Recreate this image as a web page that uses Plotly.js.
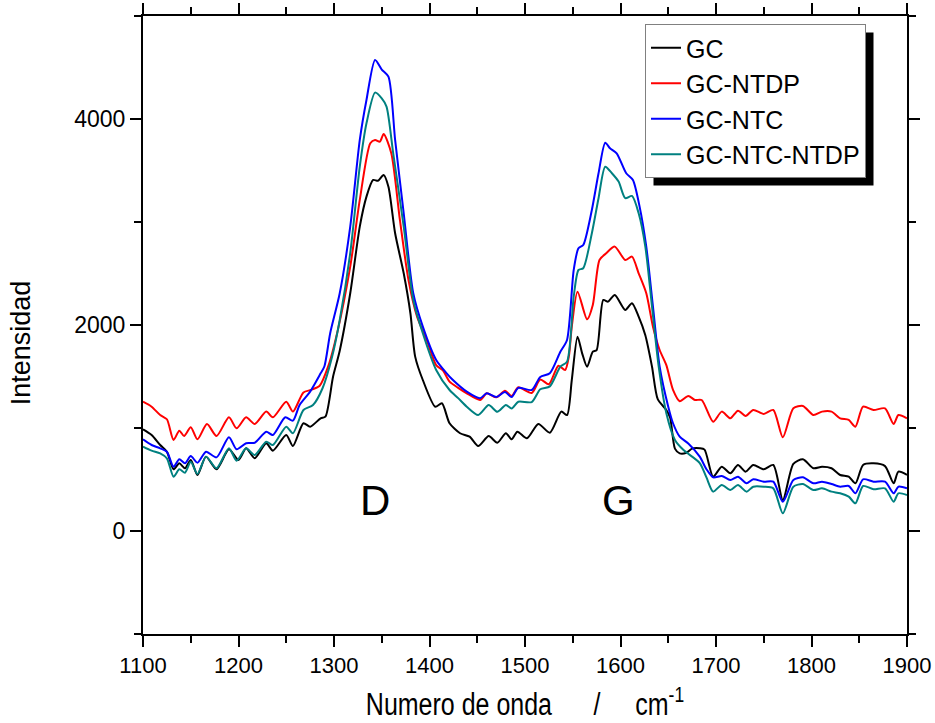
<!DOCTYPE html>
<html>
<head>
<meta charset="utf-8">
<script src="https://cdn.plot.ly/plotly-3.0.1.min.js"></script>
<style>html,body{margin:0;padding:0;background:#fff;}#chart{width:935px;height:723px;}</style>
</head>
<body>
<div id="chart"></div>
<script>
// Wavenumber (cm^-1) and intensity readings per series
const gcWave = [1100,1109,1118,1125,1132,1138,1144,1150,1157,1166,
  1177,1190,1200,1208,1217,1229,1236,1250,1257,1268,
  1275,1286,1291,1299,1306,1317,1327,1334,1341,1346,
  1352,1357,1364,1373,1380,1385,1393,1406,1413,1421,
  1432,1442,1451,1462,1471,1480,1486,1492,1502,1514,
  1526,1538,1544,1549,1555,1560,1565,1571,1575,1582,
  1587,1594,1605,1612,1619,1626,1633,1639,1648,1652,
  1657,1662,1669,1675,1683,1688,1697,1706,1715,1723,
  1731,1739,1750,1760,1770,1781,1791,1802,1811,1821,
  1830,1839,1846,1854,1865,1877,1886,1891,1900];
const gcIntensity = [987,932,835,770,599,657,609,689,544,722,
  599,793,689,803,706,852,780,932,825,1046,
  1013,1094,1110,1498,1750,2308,2955,3246,3408,3400,
  3457,3343,2891,2502,2114,1693,1466,1207,1240,1046,
  949,916,825,922,857,949,890,964,900,1039,
  954,1159,1126,1466,1887,1720,1595,1741,1757,2243,
  2227,2292,2146,2211,2081,1900,1595,1280,1175,1100,
  800,754,760,800,803,790,527,624,560,641,
  576,641,599,641,301,651,696,609,624,609,
  544,527,463,641,657,630,463,576,544];

const ntdpWave = [1100,1109,1118,1125,1132,1138,1143,1150,1157,1167,
  1177,1190,1198,1208,1217,1229,1236,1250,1257,1268,
  1276,1285,1294,1304,1317,1327,1338,1343,1348,1352,
  1360,1369,1378,1387,1397,1407,1414,1421,1430,1439,
  1453,1460,1470,1479,1486,1493,1507,1516,1525,1535,
  1542,1546,1549,1555,1565,1571,1578,1585,1594,1605,
  1612,1619,1627,1634,1641,1648,1655,1662,1671,1678,
  1685,1697,1706,1715,1723,1731,1739,1750,1760,1770,
  1781,1791,1802,1811,1821,1830,1839,1846,1854,1865,
  1877,1886,1891,1900];
const ntdpIntensity = [1255,1207,1126,1085,884,974,922,1007,890,1039,
  922,1104,997,1104,1039,1159,1104,1255,1159,1345,
  1370,1410,1600,1950,2566,3214,3765,3797,3780,3855,
  3667,3020,2437,2081,1855,1610,1560,1450,1390,1337,
  1272,1337,1298,1362,1310,1395,1340,1470,1425,1605,
  1563,1700,1984,2324,2055,2194,2631,2696,2761,2631,
  2664,2502,2308,1984,1757,1610,1370,1260,1311,1272,
  1272,1061,1159,1094,1168,1117,1175,1136,1175,910,
  1191,1214,1126,1159,1159,1094,1078,1013,1207,1175,
  1191,1039,1126,1094];

const ntcWave = [1100,1109,1118,1125,1132,1138,1144,1150,1157,1166,
  1177,1190,1198,1208,1217,1229,1236,1249,1257,1264,
  1275,1286,1290,1296,1306,1317,1327,1334,1343,1350,
  1357,1364,1373,1383,1393,1407,1418,1424,1439,1453,
  1460,1470,1479,1486,1493,1507,1516,1526,1537,1544,
  1551,1556,1561,1570,1577,1584,1589,1596,1606,1613,
  1620,1627,1634,1641,1650,1655,1662,1671,1683,1690,
  1697,1706,1715,1723,1732,1739,1750,1760,1770,1781,
  1791,1802,1811,1821,1830,1839,1846,1854,1865,1877,
  1886,1891,1900];
const ntcIntensity = [890,835,803,770,624,696,657,728,663,770,
  715,910,793,852,857,964,932,1104,1071,1223,
  1353,1531,1600,1920,2308,2955,3797,4185,4573,4480,
  4411,3797,3085,2308,1984,1660,1531,1470,1353,1290,
  1337,1300,1350,1300,1390,1369,1495,1531,1740,1855,
  2534,2745,2777,3117,3473,3770,3716,3667,3473,3408,
  3149,2761,2178,1595,1207,1046,916,850,722,600,
  521,534,495,527,463,502,479,479,285,495,
  521,463,479,456,430,437,366,502,479,479,
  366,430,414];

const ntcNtdpWave = [1100,1109,1118,1125,1132,1138,1144,1150,1157,1166,
  1177,1190,1198,1208,1217,1229,1236,1250,1257,1268,
  1278,1288,1298,1306,1317,1327,1334,1343,1350,1355,
  1362,1373,1383,1393,1407,1421,1430,1439,1451,1462,
  1471,1480,1486,1493,1507,1516,1526,1537,1544,1551,
  1556,1561,1570,1577,1584,1591,1598,1605,1612,1619,
  1626,1633,1640,1648,1657,1666,1683,1690,1697,1706,
  1715,1723,1732,1739,1750,1760,1770,1781,1791,1802,
  1811,1821,1830,1839,1846,1854,1865,1877,1886,1891,
  1900];
const ntcNtdpIntensity = [819,780,754,706,527,599,566,673,553,722,
  609,803,683,803,738,867,835,1013,949,1175,
  1223,1386,1692,2049,2699,3537,3958,4256,4200,4120,
  3667,2955,2243,1920,1563,1369,1290,1207,1126,1223,
  1158,1223,1190,1255,1252,1376,1404,1595,1644,2275,
  2534,2551,2891,3231,3537,3473,3392,3231,3253,3085,
  2761,2178,1595,1143,884,786,660,520,382,447,
  398,447,382,430,430,414,172,430,456,398,
  414,382,366,333,269,437,405,414,285,366,
  350];

const seriesNames = ['GC','GC-NTDP','GC-NTC','GC-NTC-NTDP'];
const seriesColors = ['#000000','#ff0000','#0000ff','#008080'];
const bandLabels = ['D','G'];
const bandPositions = [1343, 1598];
const bandLabelLevel = 300;

const waves = [gcWave, ntdpWave, ntcWave, ntcNtdpWave];
const intensities = [gcIntensity, ntdpIntensity, ntcIntensity, ntcNtdpIntensity];

const FONT = 'Liberation Sans, Arial, Helvetica, sans-serif';
const NBSP = '\u00a0';

const traces = seriesNames.map((name, i) => ({
  type: 'scatter', mode: 'lines', name: name,
  x: waves[i], y: intensities[i],
  line: {color: seriesColors[i], width: 2, shape: 'spline', smoothing: 0.7},
  hoverinfo: 'skip'
}));

const L = 143, R = 28, T = 16, B = 89;
const W = 935, H = 723;
const pw = W - L - R, ph = H - T - B;
function px2paperX(px){ return (px - L) / pw; }
function px2paperY(py){ return (H - B - py) / ph; }

const layout = {
  width: W, height: H,
  margin: {l: L, r: R, t: T, b: B, pad: 0},
  paper_bgcolor: '#ffffff', plot_bgcolor: '#ffffff',
  font: {family: FONT, color: '#000000'},
  showlegend: true,
  legend: {
    x: px2paperX(645), y: px2paperY(24), xanchor: 'left', yanchor: 'top',
    bgcolor: '#ffffff', bordercolor: '#808080', borderwidth: 1,
    font: {family: FONT, size: 25, color: '#000000'},
    tracegroupgap: 0, itemwidth: 30
  },
  xaxis: {
    range: [1100, 1900], tick0: 1100, dtick: 100,
    ticks: 'outside', ticklen: 11, tickwidth: 2, tickcolor: '#000',
    showline: true, linewidth: 2, linecolor: '#000', mirror: 'ticks',
    showgrid: false, zeroline: false,
    minor: {dtick: 50, ticks: 'outside', ticklen: 7, tickwidth: 2, tickcolor: '#000', showgrid: false},
    tickfont: {family: FONT, size: 22, color: '#000'},
    title: {text: 'Numero de onda' + NBSP.repeat(6) + '/' + NBSP.repeat(5) + 'cm<sup>-1</sup>',
            font: {family: FONT, size: 25, color: '#000'}, standoff: 20}
  },
  yaxis: {
    range: [-1000, 5000], tick0: 0, dtick: 2000,
    ticks: 'outside', ticklen: 11, tickwidth: 2, tickcolor: '#000',
    showline: true, linewidth: 2, linecolor: '#000', mirror: 'ticks',
    showgrid: false, zeroline: false,
    minor: {dtick: 1000, ticks: 'outside', ticklen: 7, tickwidth: 2, tickcolor: '#000', showgrid: false},
    tickfont: {family: FONT, size: 23, color: '#000'},
    title: {text: 'Intensidad', font: {family: FONT, size: 27, color: '#000'}, standoff: 33}
  },
  annotations: bandLabels.map((t, i) => ({
    x: bandPositions[i], y: bandLabelLevel, xref: 'x', yref: 'y',
    text: t, showarrow: false, font: {family: FONT, size: 42, color: '#000'}
  }))
};

Plotly.newPlot('chart', traces, layout, {displayModeBar: false, staticPlot: true}).then(gd => {
  // legend drop shadow placed from the rendered legend box
  const bg = gd.querySelector('.legend .bg');
  if (!bg) return gd;
  const r = bg.getBoundingClientRect();
  const c = gd.getBoundingClientRect();
  const left = r.left - c.left, top = r.top - c.top;
  const right = r.right - c.left, bottom = r.bottom - c.top;
  const off = 8;
  return Plotly.relayout(gd, {shapes: [{
    type: 'rect', xref: 'paper', yref: 'paper', layer: 'above',
    x0: px2paperX(left + off), x1: px2paperX(right + off),
    y0: px2paperY(bottom + off), y1: px2paperY(top + off),
    fillcolor: '#000000', line: {width: 0}
  }]}).then(() => gd);
}).then(gd => {
  // condensed-looking x-axis title: stretch vertically around its baseline
  const t = gd.querySelector('.g-xtitle text');
  if (t) {
    const yb = parseFloat(t.getAttribute('y')) || 0;
    const k = 1.25;
    const prev = t.getAttribute('transform') || '';
    t.setAttribute('transform', prev + ' translate(0,' + (yb * (1 - k)) + ') scale(1,' + k + ')');
  }
  // y-axis title sits slightly below the plot centre in the reference
  const yt = gd.querySelector('.g-ytitle');
  if (yt) yt.setAttribute('transform', 'translate(-3,18)');
});
</script>
</body>
</html>
